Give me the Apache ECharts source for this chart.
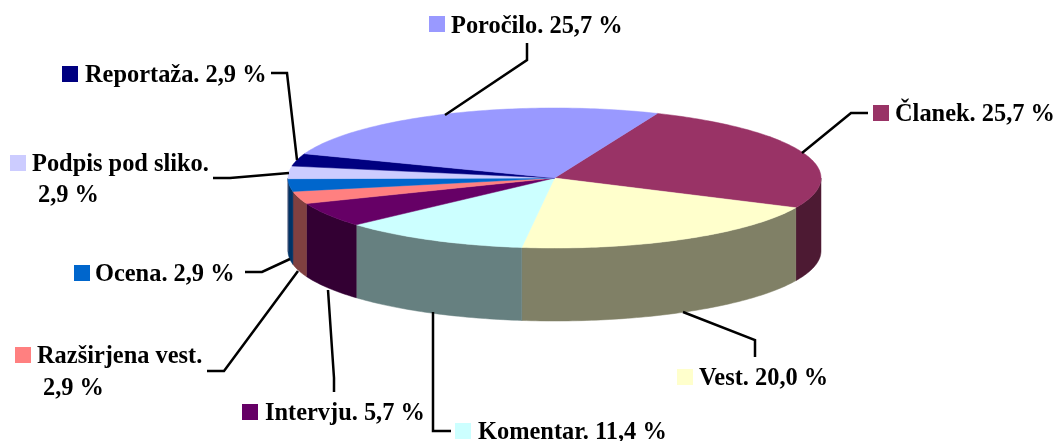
<!DOCTYPE html>
<html>
<head>
<meta charset="utf-8">
<style>html,body{margin:0;padding:0;background:#fff}#c{width:1057px;height:441px}</style>
<script src="https://cdn.jsdelivr.net/npm/echarts@6/dist/echarts.min.js"></script>
</head>
<body>
<div id="c"></div>
<script>
// Data, clockwise from the Članek slice
const categories = ['Članek', 'Vest', 'Komentar', 'Intervju', 'Razširjena vest', 'Ocena', 'Podpis pod sliko', 'Reportaža', 'Poročilo'];
const shares = [25.7, 20.0, 11.4, 5.7, 2.9, 2.9, 2.9, 2.9, 25.7];
const topColors = ['#993366', '#FFFFCC', '#CCFFFF', '#660066', '#FF8080', '#0066CC', '#CCCCFF', '#000080', '#9999FF'];
const sideColors = ['#4D1A33', '#808066', '#668080', '#330033', '#804040', '#003366', '#666680', '#000040', '#4D4D80'];

// Layout, per category: key square, label lines, leader polyline
const keyPos = [[873,105],[677,369],[455,423],[242,404],[15,347],[74,265],[10,155],[62,66],[429,16]];
const labelPos = [
  [[895,115,0]], [[699,379,0]], [[478,433,0]], [[265,414,0]],
  [[37,357,1],[43,389,2]], [[95,275,0]], [[32,165,1],[38,196,2]], [[85,76,0]], [[451,27,0]]
];
const leaders = [
  [[802,153],[851,113],[868,113]],
  [[683,312],[755,340],[755,357]],
  [[433,312],[433,431],[451,431]],
  [[328,290],[334,378],[334,392]],
  [[298,271],[224,371],[207,371]],
  [[290,259],[262,272],[245,272]],
  [[289,173],[230,178],[213,178]],
  [[297,160],[287,73],[271,73]],
  [[445,115],[527,60],[527,43]]
];
const pie = {cx: 554.5, cy: 178, rx: 266.5, ry: 70, depth: 73, start: 22.7};
const font = 'bold 24.4px "Liberation Serif"';

const total = shares.reduce((a, b) => a + b, 0);
const pt = (deg, dy) => {
  const r = deg * Math.PI / 180;
  return [pie.cx + pie.rx * Math.sin(r), pie.cy - pie.ry * Math.cos(r) + (dy || 0)];
};
const arc = (a, b, dy) => {
  const out = [], n = Math.max(2, Math.ceil(Math.abs(b - a)));
  for (let i = 0; i <= n; i++) out.push(pt(a + (b - a) * i / n, dy));
  return out;
};
const labelText = (i, kind) => {
  const val = shares[i].toFixed(1).replace('.', ',') + ' %';
  if (kind === 1) return categories[i] + '.';
  if (kind === 2) return val;
  return categories[i] + '. ' + val;
};

function renderItem(params, api) {
  const i = params.dataIndex;
  const a0 = pie.start + 360 * shares.slice(0, i).reduce((a, b) => a + b, 0) / total;
  const a1 = a0 + 360 * api.value(0) / total;
  const children = [];
  // Visible wall: the parts of the slice's rim in the front half (90..270 deg from top)
  const lo = Math.max(a0, 90), hi = Math.min(a1, 270);
  if (hi > lo) {
    children.push({
      type: 'polygon', z2: 1, silent: true,
      shape: {points: arc(lo, hi, 0).concat(arc(hi, lo, pie.depth))},
      style: {fill: sideColors[i], stroke: sideColors[i], lineWidth: 0.5}
    });
  }
  // Top face
  children.push({
    type: 'polygon', z2: 2, silent: true,
    shape: {points: [[pie.cx, pie.cy]].concat(arc(a0, a1, 0))},
    style: {fill: topColors[i], stroke: topColors[i], lineWidth: 0.5}
  });
  // Leader
  children.push({
    type: 'polyline', z2: 3, silent: true,
    shape: {points: leaders[i]},
    style: {fill: null, stroke: '#000', lineWidth: 2.5}
  });
  // Key
  children.push({
    type: 'rect', z2: 4, silent: true,
    shape: {x: keyPos[i][0], y: keyPos[i][1], width: 16, height: 16},
    style: {fill: topColors[i]}
  });
  // Label lines
  labelPos[i].forEach(p => children.push({
    type: 'text', z2: 4, silent: true,
    style: {text: labelText(i, p[2]), x: p[0], y: p[1], font: font, fill: '#000', verticalAlign: 'middle', align: 'left'}
  }));
  return {type: 'group', children: children};
}

const chart = echarts.init(document.getElementById('c'), null, {renderer: 'canvas'});
chart.setOption({
  animation: false,
  backgroundColor: '#fff',
  series: [{
    type: 'custom',
    coordinateSystem: 'none',
    clip: false,
    renderItem: renderItem,
    data: shares.map((v, i) => ({name: categories[i], value: [v]})),
    dimensions: ['share'],
    encode: {value: 0}
  }]
});
</script>
</body>
</html>
